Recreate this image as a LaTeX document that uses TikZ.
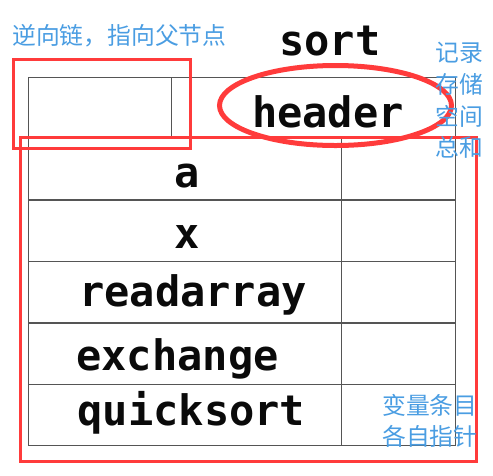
\documentclass[tikz,border=0pt]{standalone}
\usepackage{fontspec}
\setmonofont{DejaVu Sans Mono}
\newfontfamily\cjk{Noto Sans CJK SC}
\usetikzlibrary{shapes.geometric}
\definecolor{stInk}{HTML}{0A0A0A}
\definecolor{stGrid}{HTML}{555555}
\definecolor{stRed}{HTML}{FF3B3B}
\definecolor{stBlue}{HTML}{4A9DE2}
\tikzset{
  cell/.style={draw=stGrid, line width=1.3pt, inner sep=0pt, anchor=north west},
  entry/.style={font=\fontsize{42}{42}\selectfont\ttfamily\bfseries, text=stInk, inner sep=0pt, anchor=base},
  note/.style={font=\fontsize{23.8}{31.7}\selectfont\cjk, text=stBlue, inner sep=0pt, align=left},
  hilite/.style={draw=stRed, line width=3.2pt, inner sep=0pt},
  ring/.style={ellipse, draw=stRed, line width=5pt, inner sep=0pt},
}
\begin{document}
\begin{tikzpicture}[x=1pt, y=-1pt]
  \useasboundingbox (0,0) rectangle (493,475);
  % header row of the table
  \node[cell, minimum width=143pt, minimum height=61pt] (par) at (28,77) {};
  \node[cell, minimum width=284pt, minimum height=61pt] (hd) at (171,77) {};
  \node[entry] (thd) at (328,127) {header};
  \node[entry] (tsort) at (330,55) {sort};
  % one row for each entry
  \foreach \nm/\lbl/\tx/\bl [count=\i] in {a/a/187.5/187, x/x/187.5/248, ra/readarray/193/306, ex/exchange/177.5/370, qs/quicksort/191.5/425} {
    \node[cell, minimum width=313pt, minimum height=61.4pt] (n\nm) at (28,{138+(\i-1)*61.4}) {};
    \node[cell, minimum width=114pt, minimum height=61.4pt] (v\nm) at (341,{138+(\i-1)*61.4}) {};
    \node[entry] (t\nm) at (\tx,\bl) {\lbl};
  }
  % red marks
  \node[hilite, minimum width=177pt, minimum height=89pt] (bpar) at (102,104) {};
  \node[hilite, minimum width=456pt, minimum height=324pt] (bvars) at (248.5,299.5) {};
  \node[ring, minimum width=232pt, minimum height=80pt] (rhd) at (335.5,105.5) {};
  % notes
  \node[note, anchor=base west] (npar) at (12,44) {逆向链，指向父节点};
  \node[note, anchor=west] (nsize) at (435,100.5) {记录\\存储\\空间\\总和};
  \node[note, anchor=west] (nvars) at (382,421) {变量条目\\各自指针};
\end{tikzpicture}
\end{document}
